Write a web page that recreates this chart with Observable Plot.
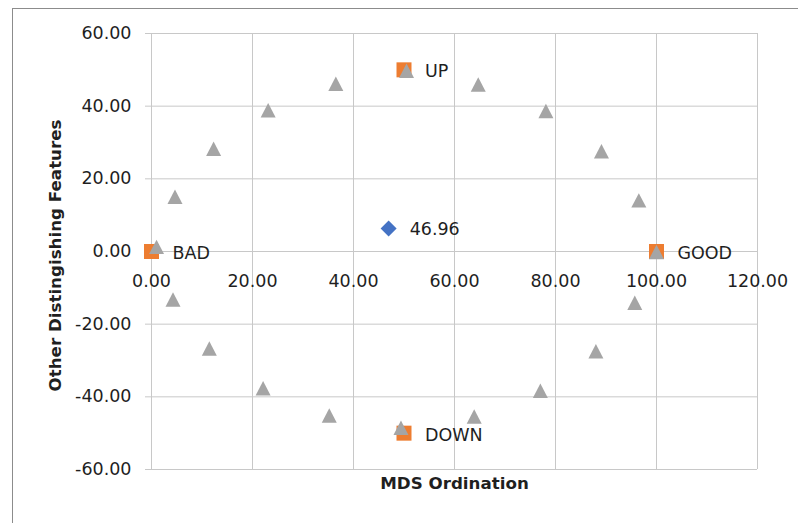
<!DOCTYPE html>
<html>
<head>
<meta charset="utf-8">
<script src="https://cdn.jsdelivr.net/npm/d3@7"></script>
<script src="https://cdn.jsdelivr.net/npm/@observablehq/plot@0.6"></script>
<style>
  html, body { margin: 0; padding: 0; background: #fff; }
  #wrap { position: relative; width: 798px; height: 523px; overflow: hidden; }
  #frame { position: absolute; left: 12px; top: 8px; width: 900px; height: 600px;
           border-left: 1px solid #8c8c8c; border-top: 1px solid #8c8c8c; box-sizing: border-box; }
  #chart { position: absolute; left: 0; top: 0; }
</style>
</head>
<body>
<div id="wrap"><div id="frame"></div><div id="chart"></div></div>
<script>
// Axis ticks
const xTicks = [0, 20, 40, 60, 80, 100, 120];
const yTicks = [-60, -40, -20, 0, 20, 40, 60];

// Centroid of the sample (blue diamond)
const centroidX = [46.96];
const centroidY = [6.3];

// Reference anchors (orange squares)
const anchorNames = ["BAD", "GOOD", "UP", "DOWN"];
const anchorX = [0, 100, 50, 50];
const anchorY = [0, 0, 50, -50];

// Ordination ring (grey triangles)
const ringX = [1.0, 4.65, 12.3, 23.1, 36.5, 50.5, 64.7, 78.1, 89.1, 96.5, 100.0,
               4.26, 11.45, 22.1, 35.2, 49.4, 63.9, 77.0, 88.0, 95.7];
const ringY = [1.2, 15.0, 28.2, 38.8, 46.1, 49.7, 45.9, 38.6, 27.5, 14.0, -0.2,
               -13.3, -26.8, -37.7, -45.2, -48.6, -45.5, -38.4, -27.5, -14.2];

const centroid = centroidX.map((x, i) => ({x, y: centroidY[i], label: x.toFixed(2)}));
const anchors = anchorNames.map((name, i) => ({x: anchorX[i], y: anchorY[i], label: name}));
const ring = ringX.map((x, i) => ({x, y: ringY[i]}));

// Marker shapes sized from the dot radius
const triangle = {draw(ctx, size) { const r = Math.sqrt(size / Math.PI);
  ctx.moveTo(0, -r); ctx.lineTo(r, r * 0.93); ctx.lineTo(-r, r * 0.93); ctx.closePath(); }};
const square = {draw(ctx, size) { const r = Math.sqrt(size / Math.PI);
  ctx.moveTo(-r, -r); ctx.lineTo(r, -r); ctx.lineTo(r, r); ctx.lineTo(-r, r); ctx.closePath(); }};
const diamond = {draw(ctx, size) { const r = Math.sqrt(size / Math.PI);
  ctx.moveTo(0, -r); ctx.lineTo(r, 0); ctx.lineTo(0, r); ctx.lineTo(-r, 0); ctx.closePath(); }};

const grid = "#c8c8c8";
const fmt = d => d.toFixed(2);

const chart = Plot.plot({
  width: 798,
  height: 523,
  marginLeft: 151,
  marginRight: 41,
  marginTop: 33,
  marginBottom: 54,
  style: {fontFamily: "'DejaVu Sans', sans-serif", fontSize: "17.5px", color: "#1f1f1f", background: "transparent"},
  x: {domain: [0, 120], axis: null},
  y: {domain: [-60, 60], axis: null},
  marks: [
    Plot.ruleY(yTicks, {y: d => d, x1: 0, x2: 120, stroke: grid}),
    Plot.ruleX(xTicks, {x: d => d, y1: -60, y2: 60, stroke: grid}),
    Plot.axisY(yTicks, {tickFormat: fmt, tickSize: 6, tickPadding: 14, stroke: grid, label: null}),
    Plot.text(xTicks, {x: d => d, y: 0, dy: 30, text: fmt}),
    Plot.dot(centroid, {x: "x", y: "y", r: 8, symbol: diamond, fill: "#4472C4", stroke: null}),
    Plot.dot(anchors, {x: "x", y: "y", r: 7.5, symbol: square, fill: "#ED7D31", stroke: null}),
    Plot.dot(ring, {x: "x", y: "y", r: 7.5, symbol: triangle, fill: "#A5A5A5", stroke: null}),
    Plot.text(anchors, {x: "x", y: "y", text: "label", textAnchor: "start", dx: 21, dy: 2}),
    Plot.text(centroid, {x: "x", y: "y", text: "label", textAnchor: "start", dx: 21, dy: 1}),
    Plot.text(["MDS Ordination"], {frameAnchor: "bottom", textAnchor: "middle", dy: 19, fontWeight: "bold", fontSize: 16.7}),
    Plot.text(["Other Distingishing Features"], {frameAnchor: "left", textAnchor: "middle", dx: -96, dy: 4, rotate: -90, fontWeight: "bold", fontSize: 16.7})
  ]
});
document.getElementById("chart").appendChild(chart);
</script>
</body>
</html>
